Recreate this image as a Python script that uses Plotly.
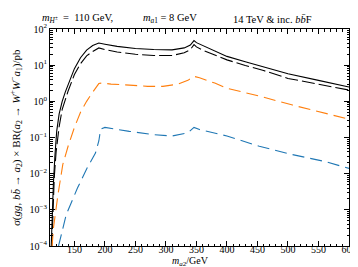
import plotly.graph_objects as go

# Black solid
x_bs = [112, 113.5, 115.5, 118, 121, 125, 130, 135, 140, 150, 160, 170, 180, 190, 200, 220, 250, 280, 310, 330, 340, 346, 350, 360, 380, 400, 430, 460, 500, 550, 600]
y_bs = [1e-4, 1e-3, 5e-3, 3e-2, 0.15, 0.45, 1.0, 1.8, 3.0, 8, 16, 26, 35, 41, 38, 33, 29, 27, 26.5, 30, 36, 48, 42, 35, 25, 17.5, 12.5, 9, 5.8, 3.8, 2.5]
# Black dashed
x_bd = [113, 115, 117, 120, 125, 130, 140, 150, 160, 170, 180, 190, 200, 220, 250, 280, 310, 330, 340, 346, 350, 360, 380, 400, 430, 460, 500, 550, 600]
y_bd = [1e-4, 1.5e-3, 8e-3, 4e-2, 0.2, 0.6, 2.0, 5.5, 11, 18, 24, 30, 27, 23, 20, 18.5, 18.5, 22, 27, 37, 32, 26, 19.5, 14, 9.8, 7.1, 4.3, 2.9, 2.05]
# Orange dashed
x_or = [113.5, 115.5, 123, 131, 140, 150, 160, 170, 180, 185, 190, 195, 210, 240, 270, 295, 320, 336, 346, 355, 380, 400, 453, 506, 559, 600]
y_or = [1e-4, 3e-4, 2.6e-3, 1.8e-2, 6e-2, 0.19, 0.5, 1.0, 1.8, 2.4, 3.1, 3.2, 3.0, 2.8, 2.6, 2.6, 3.0, 3.8, 4.9, 4.5, 3.2, 2.3, 1.4, 0.8, 0.48, 0.32]
# Blue dashed
x_bl = [124, 126, 136.6, 155, 171, 184.5, 190, 193, 200, 240, 280, 310, 336, 346, 355, 400, 453, 506, 559, 600]
y_bl = [1e-4, 1.4e-4, 7.4e-4, 4e-3, 1.45e-2, 3.7e-2, 8e-2, 0.17, 0.19, 0.148, 0.12, 0.11, 0.135, 0.19, 0.166, 0.11, 0.057, 0.034, 0.022, 0.014]

# Axis ticks
x_ticks = [150, 200, 250, 300, 350, 400, 450, 500, 550, 600]
y_tick_exps = [-4, -3, -2, -1, 0, 1, 2]
y_ticks = [10.0 ** e for e in y_tick_exps]
y_tick_text = ["10<sup>%s</sup>" % (str(e).replace("-", "−")) for e in y_tick_exps]
y_minor = [m * 10.0 ** e for e in y_tick_exps[:-1] for m in range(2, 10)]

FONT = "Liberation Serif"
FS = 10

fig = go.Figure()
fig.add_trace(go.Scatter(x=x_bs, y=y_bs, mode="lines", line=dict(color="black", width=1.1)))
fig.add_trace(go.Scatter(x=x_bd, y=y_bd, mode="lines", line=dict(color="black", width=1.1, dash="13px,4px")))
fig.add_trace(go.Scatter(x=x_or, y=y_or, mode="lines", line=dict(color="#ff7f0e", width=1.1, dash="12px,6px")))
fig.add_trace(go.Scatter(x=x_bl, y=y_bl, mode="lines", line=dict(color="#1f77b4", width=1.1, dash="12px,6px")))

axis_common = dict(showline=True, linecolor="black", linewidth=1, mirror="ticks", ticks="inside",
                   tickcolor="black", ticklen=5, tickwidth=1, showgrid=False, zeroline=False,
                   tickfont=dict(family=FONT, size=FS, color="black"))

fig.update_xaxes(range=[110, 600], tickmode="array", tickvals=x_ticks, ticklabelstandoff=-6,
                 minor=dict(dtick=10, tick0=0, ticks="inside", ticklen=2.5, tickcolor="black"),
                 **axis_common)
fig.update_yaxes(type="log", range=[-4, 2], tickmode="array", tickvals=y_ticks, ticktext=y_tick_text,
                 minor=dict(tickmode="array", tickvals=y_minor, ticks="inside", ticklen=2.5, tickcolor="black"),
                 **axis_common)

# Axis titles
fig.add_annotation(x=0.469, y=-0.07, xref="paper", yref="paper", xanchor="center", yanchor="middle",
                   text="<i>m</i><sub><i>a</i>2</sub>/GeV", showarrow=False,
                   font=dict(family=FONT, size=FS, color="black"))
fig.add_annotation(x=-0.115, y=0.5, xref="paper", yref="paper", xanchor="center", yanchor="middle",
                   textangle=-90, showarrow=False,
                   text="σ(<i>gg</i>, <i>bb̄</i> → <i>a</i><sub>2</sub>) × BR(<i>a</i><sub>2</sub> → <i>W</i><sup>+</sup><i>W</i><sup>−</sup><i>a</i><sub>1</sub>)/pb",
                   font=dict(family=FONT, size=11, color="black"))

annots = [
    (-0.033, "<i>m</i><sub><i>H</i><sup>±</sup></sub>  =  110 GeV,"),
    (0.303, "<i>m</i><sub><i>a</i>1</sub> = 8 GeV"),
    (0.606, "14 TeV &amp; inc. <i>bb̄</i>F"),
]
for xp, t in annots:
    fig.add_annotation(x=xp, y=1.0, xref="paper", yref="paper", yanchor="bottom", xanchor="left",
                       yshift=2, text=t, showarrow=False, font=dict(family=FONT, size=10.5, color="black"))

fig.update_layout(width=358, height=267, margin=dict(l=42, r=9, t=21, b=29),
                  plot_bgcolor="white", paper_bgcolor="white", showlegend=False)

fig.write_html("out.html")
